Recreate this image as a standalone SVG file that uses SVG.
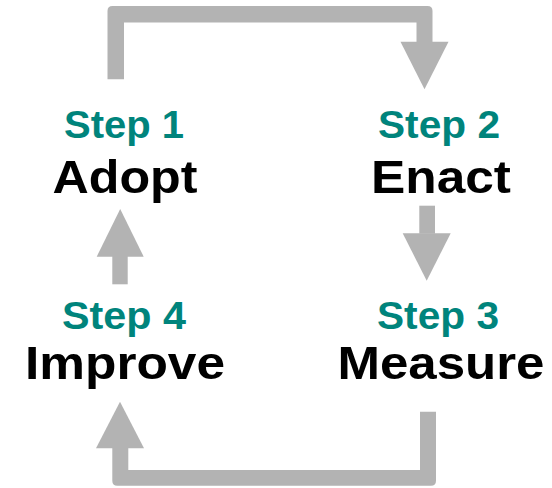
<svg xmlns="http://www.w3.org/2000/svg" width="552" height="488" viewBox="0 0 552 488">
<style>
.step{font-family:"Liberation Sans",Arial,sans-serif;font-weight:bold;font-size:39px;fill:#00847c;text-anchor:middle}
.name{font-family:"Liberation Sans",Arial,sans-serif;font-weight:bold;font-size:47px;fill:#000;text-anchor:middle}
.conn{fill:#b3b3b3;stroke:none}
</style>
<rect width="552" height="488" fill="#fff"/>
<g id="connectors">
<path class="conn" d="M107.5,79.3 L107.5,11 Q107.5,6 112.5,6 L427.5,6 Q432.5,6 432.5,11 L432.5,42 L416.5,42 L416.5,22.5 L124,22.5 L124,79.3 Z"/>
<polygon class="conn" points="400.5,41.7 448.5,41.7 424.5,89.3"/>
<rect class="conn" x="419.3" y="205.7" width="15.7" height="28"/>
<polygon class="conn" points="402.7,233.3 450.7,233.3 426.7,280.7"/>
<rect class="conn" x="112.3" y="256" width="15.4" height="28.3"/>
<polygon class="conn" points="96.7,256.7 143.7,256.7 120.2,209"/>
<path class="conn" d="M420,411.7 L436,411.7 L436,480.7 Q436,485.7 431,485.7 L117.3,485.7 Q112.3,485.7 112.3,480.7 L112.3,448 L128.3,448 L128.3,470 L420,470 Z"/>
<polygon class="conn" points="96,448.3 144,448.3 120,401.7"/>
</g>
<g id="step1">
<text class="step" x="124" y="138" textLength="120" lengthAdjust="spacingAndGlyphs">Step 1</text>
<text class="name" x="125" y="193" textLength="145" lengthAdjust="spacingAndGlyphs">Adopt</text>
</g>
<g id="step2">
<text class="step" x="439" y="138" textLength="122" lengthAdjust="spacingAndGlyphs">Step 2</text>
<text class="name" x="441" y="193" textLength="140" lengthAdjust="spacingAndGlyphs">Enact</text>
</g>
<g id="step3">
<text class="step" x="438" y="328.5" textLength="122" lengthAdjust="spacingAndGlyphs">Step 3</text>
<text class="name" x="441" y="378.5" textLength="207" lengthAdjust="spacingAndGlyphs">Measure</text>
</g>
<g id="step4">
<text class="step" x="124" y="328.5" textLength="124" lengthAdjust="spacingAndGlyphs">Step 4</text>
<text class="name" x="125" y="378.5" textLength="200" lengthAdjust="spacingAndGlyphs">Improve</text>
</g>
</svg>
